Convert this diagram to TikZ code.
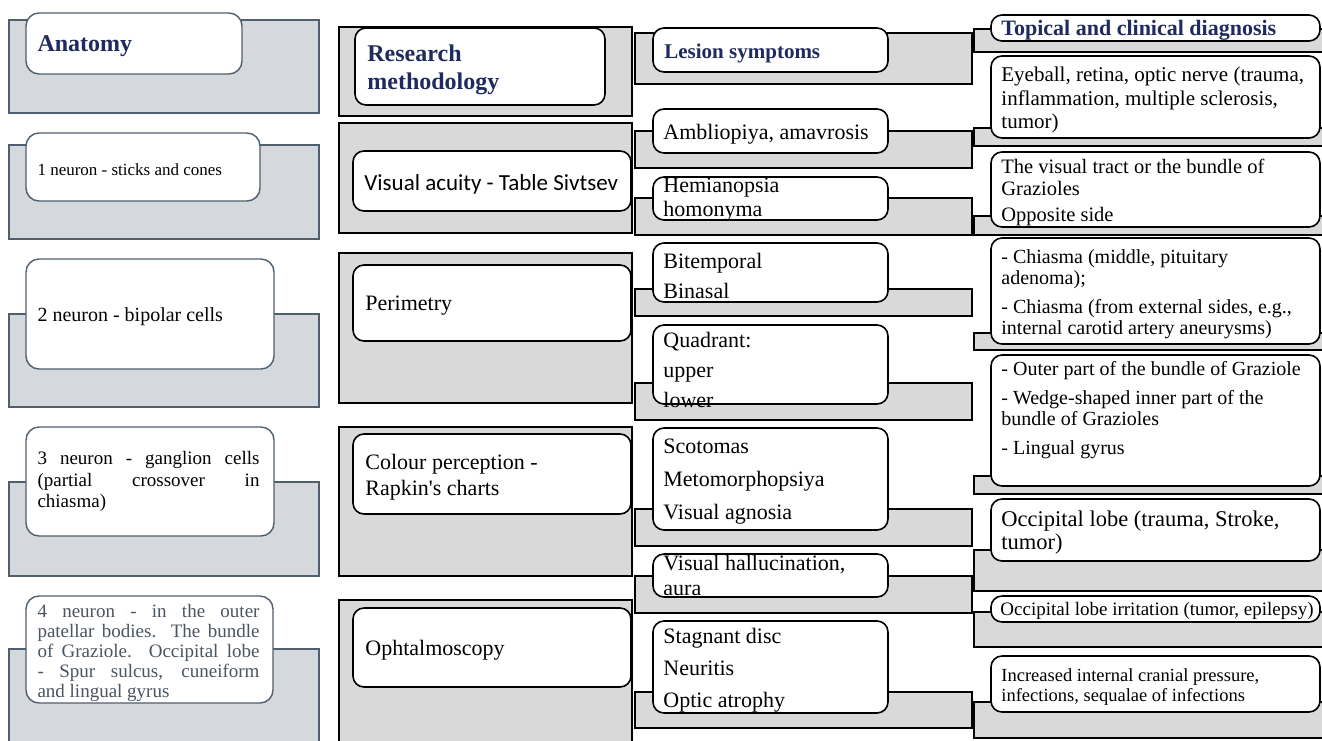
\documentclass[tikz,border=0pt]{standalone}
\usepackage{fontspec}
\setmainfont{Liberation Serif}
\newfontfamily\carlitofont{Carlito}
\definecolor{slate}{HTML}{4F5F6F}
\definecolor{grayA}{HTML}{D5D8DC}
\definecolor{grayB}{HTML}{D9D9D9}
\definecolor{navy}{HTML}{1F2B5E}
\definecolor{ntext}{HTML}{4A5560}
\newcommand\bx[6]{\node[#1, minimum width={(#5)-(#3)}, minimum height={(#6)-(#4)}] (#2) at ({((#3)+(#5))/2},{((#4)+(#6))/2}) {};}
\tikzset{
  gA/.style={rectangle, draw=slate, fill=grayA, line width=1.4pt, inner sep=0pt},
  wA/.style={rectangle, draw=slate, fill=white, line width=1.4pt, rounded corners=13pt, inner sep=0pt},
  gB/.style={rectangle, draw=black, fill=grayB, line width=1.6pt, inner sep=0pt},
  wB/.style={rectangle, draw=black, fill=white, line width=1.6pt, rounded corners=11pt, inner sep=0pt},
  txt/.style={anchor=west, align=left, inner sep=0pt, yshift=-3pt},
  ttl/.style={txt, text=navy, font=\bfseries\fontsize{24}{28}\selectfont},
}
\begin{document}
\begin{tikzpicture}[x=1pt,y=-1pt]
\fill[white] (0,0) rectangle (1322,740);
\useasboundingbox (0,0) rectangle (1322,740);
% ---------- column 1 : anatomy
\bx{gA}{g1}{9}{20}{319}{113}
\bx{wA}{w1}{26}{13}{242}{74}
\node[ttl] (t1) at ([xshift=12pt]w1.west) {Anatomy};
\bx{gA}{g2}{9}{145}{319}{239}
\bx{wA}{w2}{26}{133}{260}{201}
\node[txt, font=\fontsize{17}{20}\selectfont] (t2) at ([xshift=12pt]w2.west) {1 neuron - sticks and cones};
\bx{gA}{g3}{9}{314}{319}{407}
\bx{wA}{w3}{26}{259}{274}{369}
\node[txt, font=\fontsize{20}{23}\selectfont] (t3) at ([xshift=12pt]w3.west) {2 neuron - bipolar cells};
\bx{gA}{g4}{9}{482}{319}{576}
\bx{wA}{w4}{26}{427}{274}{536}
\node[txt, align=justify, text width=222pt, font=\fontsize{19}{21.5}\selectfont] (t4) at ([xshift=12pt,yshift=3pt]w4.west) {3 neuron - ganglion cells\linebreak (partial crossover in\linebreak chiasma)};
\bx{gA}{g5}{9}{649}{319}{760}
\bx{wA}{w5}{26}{596}{273}{703}
\node[txt, align=justify, text width=222pt, text=ntext, font=\fontsize{19}{20}\selectfont] (t5) at ([xshift=12pt]w5.west) {4 neuron - in the outer\linebreak patellar bodies. The bundle\linebreak of Graziole. Occipital lobe\linebreak - Spur sulcus, cuneiform\linebreak and lingual gyrus};
% ---------- column 2 : methods
\bx{gB}{g6}{339}{27}{632}{116}
\bx{wB}{w6}{355}{28}{605}{105}
\node[ttl] (t6) at ([xshift=13pt]w6.west) {Research\\methodology};
\bx{gB}{g7}{339}{123}{632}{233}
\bx{wB}{w7}{353}{151}{631}{211}
\node[txt, font=\carlitofont\fontsize{23}{26}\selectfont] (t7) at ([xshift=12pt]w7.west) {Visual acuity - Table Sivtsev};
\bx{gB}{g8}{339}{253}{632}{403}
\bx{wB}{w8}{353}{265}{631}{341}
\node[txt, font=\fontsize{22}{26}\selectfont] (t8) at ([xshift=13pt]w8.west) {Perimetry};
\bx{gB}{g9}{339}{427}{632}{576}
\bx{wB}{w9}{353}{434}{631}{514}
\node[txt, font=\fontsize{22}{26}\selectfont] (t9) at ([xshift=13pt]w9.west) {Colour perception -\\Rapkin\textquotesingle s charts};
\bx{gB}{g10}{339}{600}{632}{760}
\bx{wB}{w10}{353}{608}{631}{687}
\node[txt, font=\fontsize{22}{26}\selectfont] (t10) at ([xshift=13pt]w10.west) {Ophtalmoscopy};
% ---------- column 3 : symptoms
\bx{gB}{g11}{635}{33}{972}{84}
\bx{wB}{w11}{653}{28}{888}{72}
\node[ttl, font=\bfseries\fontsize{21}{25}\selectfont] (t11) at ([xshift=12pt]w11.west) {Lesion symptoms};
\bx{gB}{g12}{635}{131}{972}{168}
\bx{wB}{w12}{653}{109}{888}{153}
\node[txt, font=\fontsize{22}{26}\selectfont] (t12) at ([xshift=11pt]w12.west) {Ambliopiya, amavrosis};
\bx{gB}{g13}{635}{198}{972}{235}
\bx{wB}{w13}{653}{177}{888}{220}
\node[txt, font=\fontsize{22}{24}\selectfont] (t13) at ([xshift=11pt,yshift=2pt]w13.west) {Hemianopsia\\homonyma};
\bx{gB}{g14}{635}{289}{972}{316}
\bx{wB}{w14}{653}{243}{888}{302}
\node[txt, font=\fontsize{22}{30}\selectfont] (t14) at ([xshift=11pt]w14.west) {Bitemporal\\Binasal};
\bx{gB}{g15}{635}{383}{972}{420}
\bx{wB}{w15}{653}{325}{888}{404}
\node[txt, font=\fontsize{22}{30}\selectfont] (t15) at ([xshift=11pt,yshift=-2pt]w15.west) {Quadrant:\\upper\\lower};
\bx{gB}{g16}{635}{509}{972}{546}
\bx{wB}{w16}{653}{428}{888}{530}
\node[txt, font=\fontsize{22}{33}\selectfont] (t16) at ([xshift=11pt]w16.west) {Scotomas\\Metomorphopsiya\\Visual agnosia};
\bx{gB}{g17}{635}{576}{972}{613}
\bx{wB}{w17}{653}{554}{888}{597}
\node[txt, font=\fontsize{22}{25}\selectfont] (t17) at ([xshift=11pt,yshift=3pt]w17.west) {Visual hallucination,\\aura};
\bx{gB}{g18}{635}{692}{972}{728}
\bx{wB}{w18}{653}{621}{888}{713}
\node[txt, font=\fontsize{22}{32}\selectfont] (t18) at ([xshift=11pt]w18.west) {Stagnant disc\\Neuritis\\Optic atrophy};
% ---------- column 4 : diagnosis
\bx{gB}{g19}{974}{29}{1332}{52}
\bx{wB}{w19}{991}{15}{1320}{41}
\node[ttl, font=\bfseries\fontsize{22}{25}\selectfont] (t19) at ([xshift=11pt,yshift=1pt]w19.west) {Topical and clinical diagnosis};
\bx{gB}{g20}{974}{128}{1332}{146}
\bx{wB}{w20}{991}{56}{1320}{138}
\node[txt, font=\fontsize{21}{23.5}\selectfont] (t20) at ([xshift=11pt]w20.west) {Eyeball, retina, optic nerve (trauma,\\inflammation, multiple sclerosis,\\tumor)};
\bx{gB}{g21}{974}{216}{1332}{235}
\bx{wB}{w21}{991}{152}{1320}{227}
\node[txt, font=\fontsize{20.5}{21.5}\selectfont] (t21) at ([xshift=11pt]w21.west) {The visual tract or the bundle of\\Grazioles\\[5pt]Opposite side};
\bx{gB}{g22}{974}{333}{1332}{350}
\bx{wB}{w22}{991}{238}{1320}{344}
\node[txt, font=\fontsize{20}{21}\selectfont] (t22) at ([xshift=11pt]w22.west) {- Chiasma (middle, pituitary\\adenoma);\\[8pt]- Chiasma (from external sides, e.g.,\\internal carotid artery aneurysms)};
\bx{gB}{g23}{974}{476}{1332}{494}
\bx{wB}{w23}{991}{355}{1320}{486}
\node[txt, font=\fontsize{20}{21}\selectfont] (t23) at ([xshift=11pt,yshift=13pt]w23.west) {- Outer part of the bundle of Graziole\\[8pt]- Wedge-shaped inner part of the\\bundle of Grazioles\\[8pt]- Lingual gyrus};
\bx{gB}{g24}{974}{550}{1332}{591}
\bx{wB}{w24}{991}{499}{1320}{561}
\node[txt, font=\fontsize{22.5}{23}\selectfont] (t24) at ([xshift=11pt]w24.west) {Occipital lobe (trauma, Stroke,\\tumor)};
\bx{gB}{g25}{974}{612}{1332}{647}
\bx{wB}{w25}{991}{596}{1320}{622}
\node[txt, font=\fontsize{19}{21}\selectfont] (t25) at ([xshift=10pt,yshift=1pt]w25.west) {Occipital lobe irritation (tumor, epilepsy)};
\bx{gB}{g26}{974}{702}{1332}{738}
\bx{wB}{w26}{991}{656}{1320}{712}
\node[txt, font=\fontsize{18.5}{20}\selectfont] (t26) at ([xshift=11pt]w26.west) {Increased internal cranial pressure,\\infections, sequalae of infections};
\end{tikzpicture}
\end{document}
